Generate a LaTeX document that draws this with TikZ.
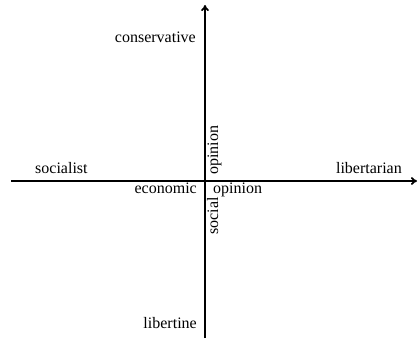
\documentclass[tikz,border=0pt]{standalone}
\usepackage{fontspec}
\setmainfont{Liberation Serif}
\usetikzlibrary{arrows.meta}
\begin{document}
\begin{tikzpicture}[x=1pt,y=1pt,
  axis/.style={line width=1.8pt,-{To[length=6pt,width=8pt]}},
  lbl/.style={inner sep=0pt,font=\fontsize{16}{19}\selectfont}]
\useasboundingbox (0,0) rectangle (418,341);
\coordinate (top) at (205,336);
\coordinate (bot) at (205,3);
\coordinate (left) at (11,160);
\coordinate (right) at (417,160);
\draw[axis] (bot) -- (top);
\draw[axis] (left) -- (right);
\node[lbl,anchor=base east] (cons) at (196,298.5) {conservative};
\node[lbl,anchor=base west] (soc) at (35,167.5) {socialist};
\node[lbl,anchor=base east] (lib) at (402,167.5) {libertarian};
\node[lbl,anchor=base east] (eco) at (197,148) {economic};
\node[lbl,anchor=base west] (op1) at (213,148) {opinion};
\node[lbl,anchor=base west,rotate=90] (op2) at (218,166) {opinion};
\node[lbl,anchor=base east,rotate=90] (socl) at (218,144) {social};
\node[lbl,anchor=base east] (libt) at (197,13) {libertine};
\end{tikzpicture}
\end{document}
